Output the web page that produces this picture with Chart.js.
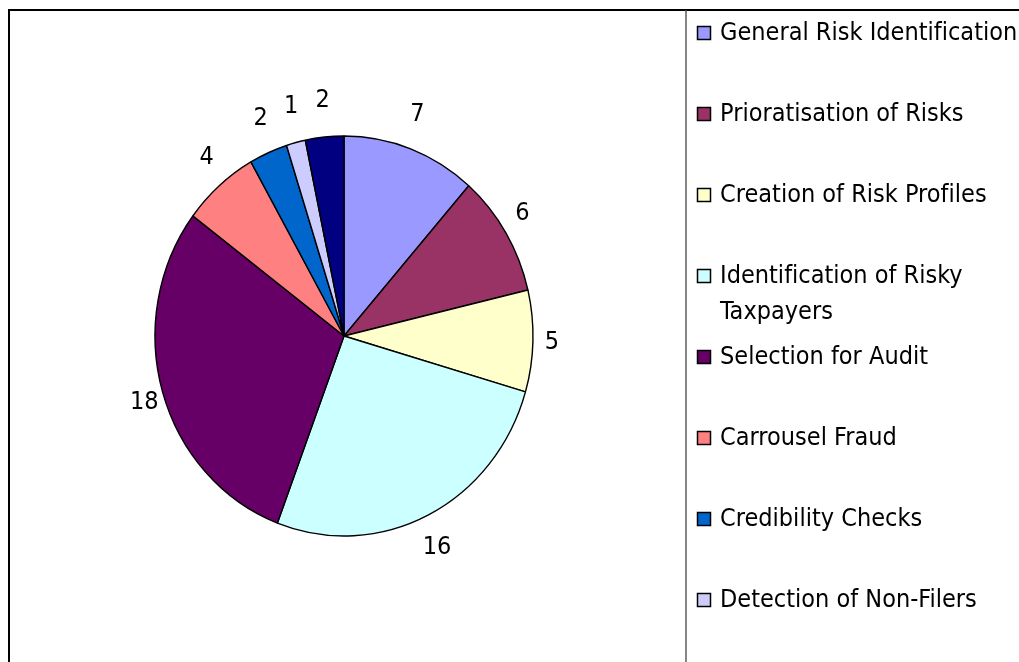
<!DOCTYPE html>
<html>
<head>
<meta charset="utf-8">
<script src="https://cdn.jsdelivr.net/npm/chart.js@4.4.1/dist/chart.umd.min.js"></script>
<style>
  html, body { margin: 0; padding: 0; background: #fff; overflow: hidden; }
  #wrap { width: 1019px; height: 662px; }
</style>
</head>
<body>
<div id="wrap"><canvas id="pie-chart"></canvas></div>
<script>
var categories = ["General Risk Identification", "Prioratisation of Risks", "Creation of Risk Profiles",
  "Identification of Risky Taxpayers", "Selection for Audit", "Carrousel Fraud",
  "Credibility Checks", "Detection of Non-Filers", "Other"];
var counts = [7, 6, 5, 16, 18, 4, 2, 1, 2];
var colours = ["#9999FF", "#993366", "#FFFFCC", "#CCFFFF", "#660066", "#FF8080", "#0066CC", "#CCCCFF", "#000080"];
// legend text split into lines the way the original wraps them
var legendLines = [["General Risk Identification"], ["Prioratisation of Risks"], ["Creation of Risk Profiles"],
  ["Identification of Risky", "Taxpayers"], ["Selection for Audit"], ["Carrousel Fraud"],
  ["Credibility Checks"], ["Detection of Non-Filers"], ["Other"]];

var FONT = "25px 'DejaVu Sans Condensed', 'DejaVu Sans', sans-serif";
var squash = 189 / 200; // pie is a little narrower than tall

// frame round the whole chart and the line before the legend
var framePlugin = {
  id: "frame",
  beforeDraw: function(chart) {
    var c = chart.ctx;
    c.save();
    c.strokeStyle = "#000";
    c.lineWidth = 2;
    c.beginPath();
    c.moveTo(9, 700); c.lineTo(9, 10); c.lineTo(1100, 10);
    c.stroke();
    c.strokeStyle = "#444";
    c.lineWidth = 1.3;
    c.beginPath();
    c.moveTo(686, 10); c.lineTo(686, 700);
    c.stroke();
    c.restore();
  }
};

// squeeze the circle horizontally
var ellipsePlugin = {
  id: "ellipse",
  beforeDatasetsDraw: function(chart) {
    var arc = chart.getDatasetMeta(0).data[0];
    var c = chart.ctx;
    c.save();
    c.translate(arc.x, arc.y);
    c.scale(squash, 1);
    c.translate(-arc.x, -arc.y);
  },
  afterDatasetsDraw: function(chart) {
    chart.ctx.restore();
  }
};

// value labels outside the slices
var valueLabels = {
  id: "valueLabels",
  afterDatasetsDraw: function(chart) {
    var c = chart.ctx;
    var meta = chart.getDatasetMeta(0);
    c.save();
    c.font = FONT;
    c.fillStyle = "#000";
    c.textAlign = "center";
    c.textBaseline = "middle";
    meta.data.forEach(function(arc, i) {
      var mid = (arc.startAngle + arc.endAngle) / 2;
      var r = arc.outerRadius;
      var x = arc.x + (r * squash + 19) * Math.cos(mid);
      var y = arc.y + (r + 37) * Math.sin(mid);
      c.fillText(String(chart.data.datasets[0].data[i]), x, y);
    });
    c.restore();
  }
};

// legend on the right
var sideLegend = {
  id: "sideLegend",
  afterDraw: function(chart) {
    var c = chart.ctx;
    var ds = chart.data.datasets[0];
    c.save();
    c.font = FONT;
    if ("letterSpacing" in c) c.letterSpacing = "0.01px"; // no fi ligature
    c.textBaseline = "middle";
    c.textAlign = "left";
    var y = 33;
    for (var i = 0; i < legendLines.length; i++) {
      c.fillStyle = ds.backgroundColor[i];
      c.fillRect(697.5, y - 6.5, 13, 13);
      c.strokeStyle = "#000";
      c.lineWidth = 1.5;
      c.strokeRect(697.5, y - 6.5, 13, 13);
      c.fillStyle = "#000";
      for (var j = 0; j < legendLines[i].length; j++) {
        c.fillText(legendLines[i][j], 720, y + j * 36);
      }
      y += 81;
    }
    c.restore();
  }
};

var ctx = document.getElementById("pie-chart");
var pieChart = new Chart(ctx, {
  type: "pie",
  data: {
    labels: categories,
    datasets: [
      {
        data: counts,
        backgroundColor: colours,
        borderColor: "#000",
        borderWidth: 1.5,
        radius: 200
      }
    ]
  },
  options: {
    responsive: true,
    maintainAspectRatio: false,
    animation: false,
    layout: { padding: { left: 144, right: 475, top: 136, bottom: 126 } },
    plugins: {
      legend: { display: false },
      tooltip: { enabled: false }
    }
  },
  plugins: [framePlugin, ellipsePlugin, valueLabels, sideLegend]
});
</script>
</body>
</html>
